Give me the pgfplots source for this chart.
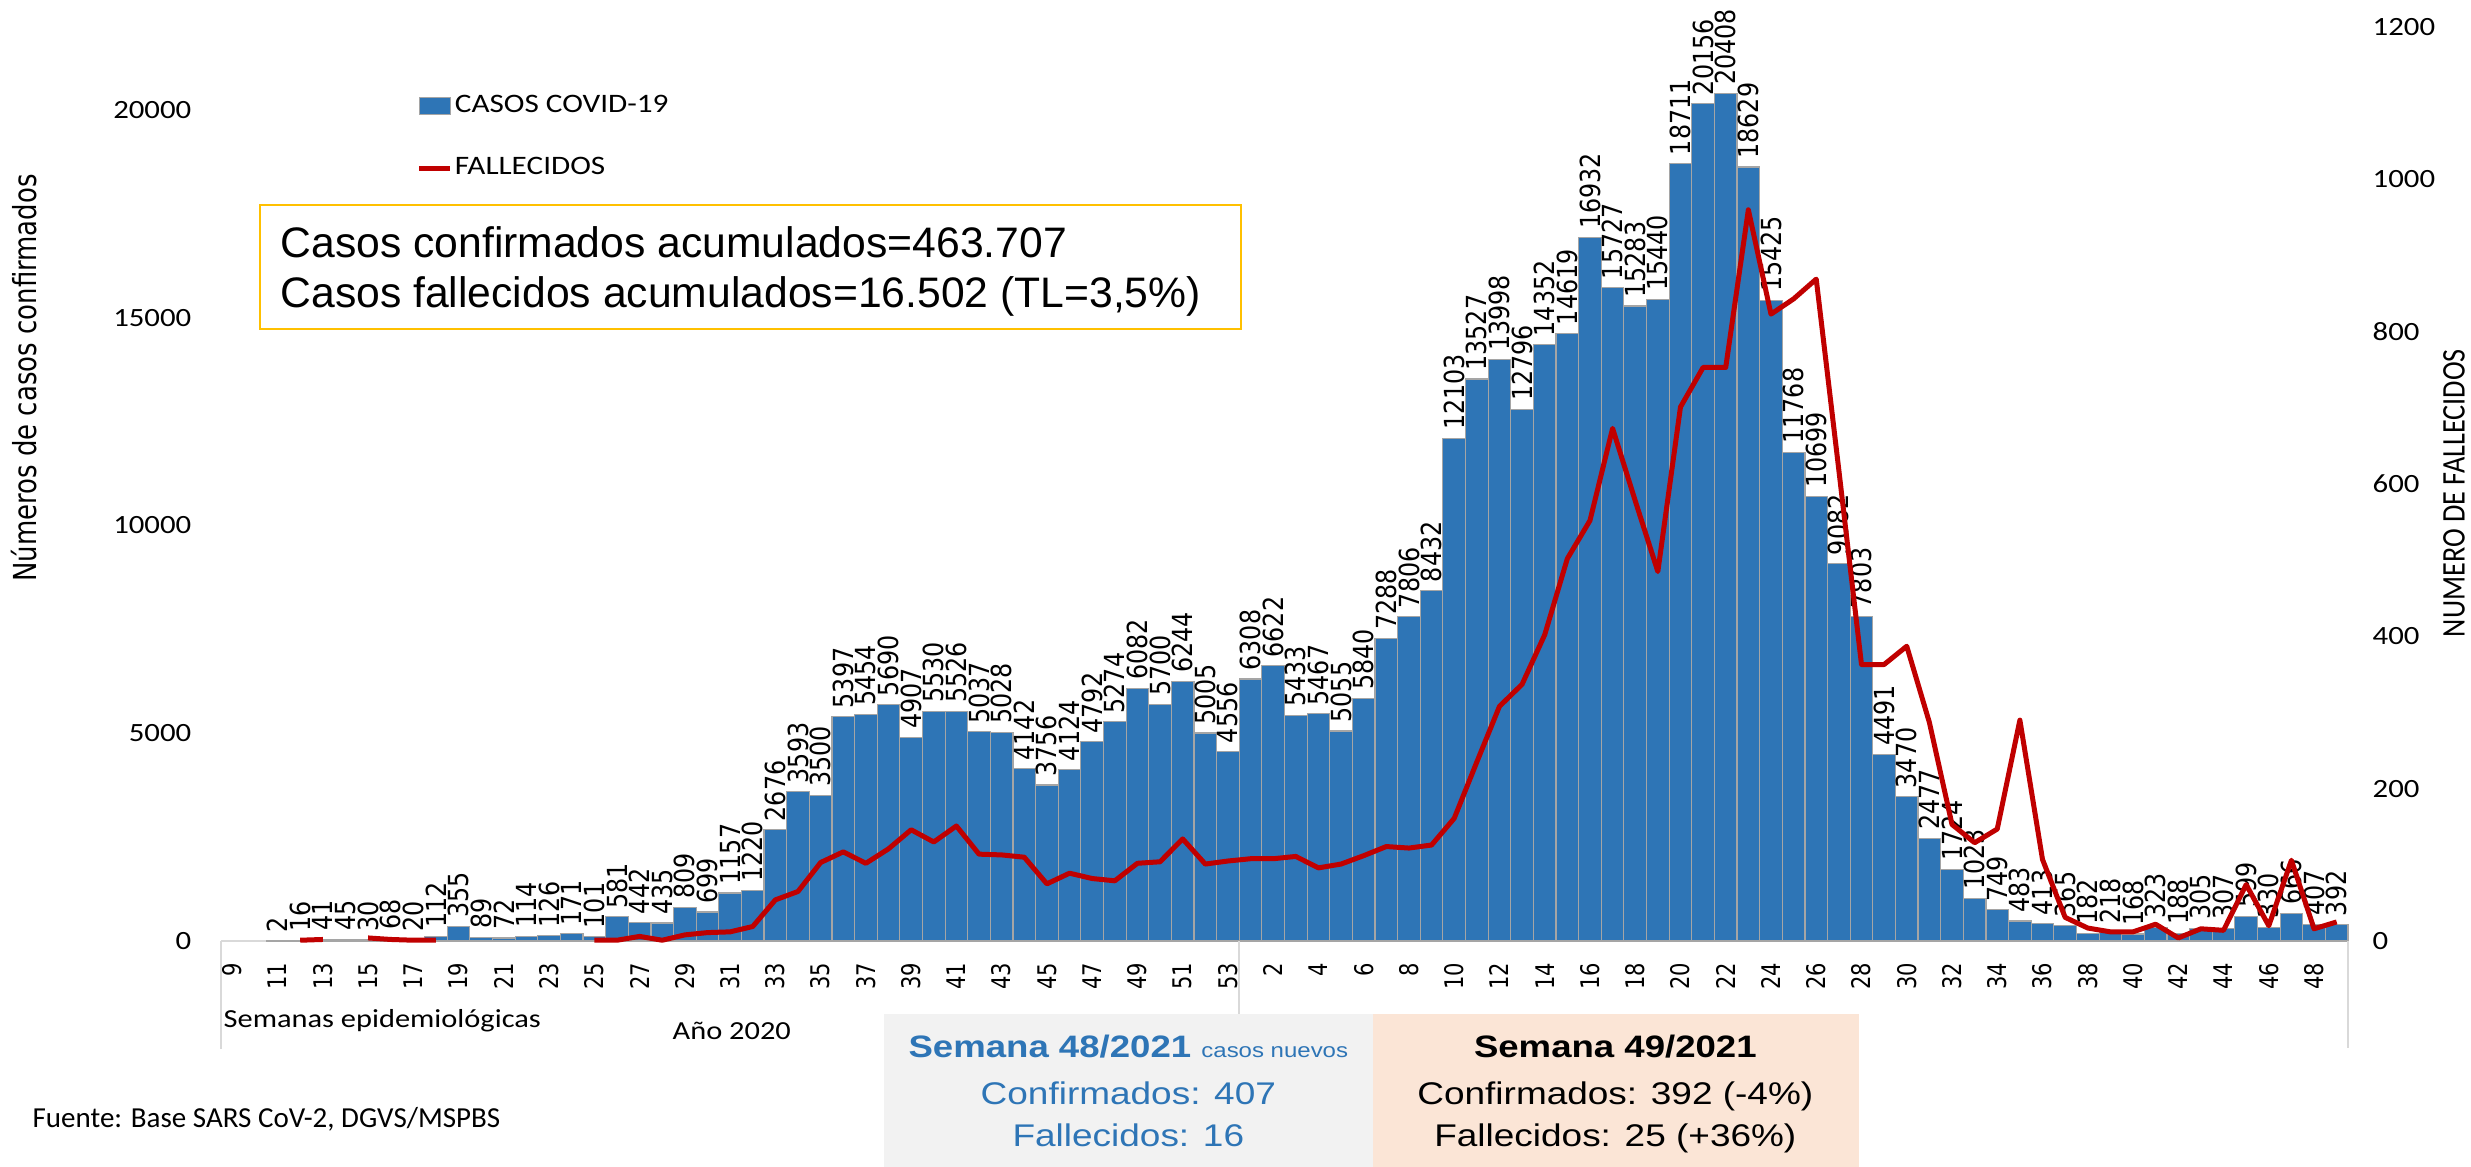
\documentclass[border=0pt]{standalone}
\usepackage{pgfplots}
\pgfplotsset{compat=1.18}
\usepackage{pgfplotstable}
\usepackage{fontspec}
\setmainfont{Carlito}
\newfontfamily\dvR[FakeStretch=0.82]{DejaVu Sans}
\newfontfamily\dvB[FakeStretch=0.86]{DejaVu Sans}
\newfontfamily\cbH[FakeStretch=1.17]{Carlito}
\newfontfamily\cbR[FakeStretch=0.855]{Carlito}
\newfontfamily\arW[FakeStretch=1.18]{Liberation Sans}
\newfontfamily\arN{Liberation Sans}
\newfontfamily\cbN{Carlito}
\definecolor{barblue}{HTML}{2E75B6}
\definecolor{bargray}{HTML}{A5A5A5}
\definecolor{linered}{HTML}{C00000}
\definecolor{boxgold}{HTML}{FFC000}
\definecolor{sepgray}{HTML}{D9D9D9}
\definecolor{graybox}{HTML}{F2F2F2}
\definecolor{peachbox}{HTML}{FBE5D6}
\definecolor{txtblue}{HTML}{2E75B6}

\pgfplotstableread{
x y
2 2
3 16
4 41
5 45
6 30
7 68
8 20
9 112
10 355
11 89
12 72
13 114
14 126
15 171
16 101
17 581
18 442
19 435
20 809
21 699
22 1157
23 1220
24 2676
25 3593
26 3500
27 5397
28 5454
29 5690
30 4907
31 5530
32 5526
33 5037
34 5028
35 4142
36 3756
37 4124
38 4792
39 5274
40 6082
41 5700
42 6244
43 5005
44 4556
45 6308
46 6622
47 5433
48 5467
49 5055
50 5840
51 7288
52 7806
53 8432
54 12103
55 13527
56 13998
57 12796
58 14352
59 14619
60 16932
61 15727
62 15283
63 15440
64 18711
65 20156
66 20408
67 18629
68 15425
69 11768
70 10699
71 9082
72 7803
73 4491
74 3470
75 2477
76 1724
77 1023
78 749
79 483
80 413
81 365
82 182
83 218
84 168
85 323
86 188
87 305
88 307
89 599
90 330
91 666
92 407
93 392
}\cases

\pgfplotstableread{
x d
0 nan
1 nan
2 nan
3 1
4 2
5 nan
6 4
7 2
8 1
9 1
10 nan
11 nan
12 nan
13 nan
14 nan
15 nan
16 1
17 1
18 6
19 1
20 8
21 11
22 12
23 19
24 54
25 65
26 103
27 117
28 102
29 121
30 146
31 130
32 151
33 114
34 113
35 110
36 75
37 89
38 82
39 79
40 102
41 104
42 134
43 101
44 105
45 108
46 108
47 111
48 96
49 101
50 112
51 124
52 122
53 126
54 161
55 235
56 308
57 337
58 402
59 502
60 552
61 673
62 578
63 485
64 701
65 753
66 753
67 960
68 823
69 843
70 869
71 618
72 363
73 363
74 387
75 287
76 153
77 129
78 147
79 290
80 107
81 31
82 17
83 12
84 12
85 22
86 4
87 16
88 14
89 74
90 20
91 106
92 16
93 25
}\deaths

\begin{document}
\begin{tikzpicture}[x=1pt,y=1pt]
\useasboundingbox (0,0) rectangle (741.3,350.1);
\begin{axis}[
  at={(66.3pt,67.8pt)}, anchor=south west,
  scale only axis, width=638.1pt, height=274.2pt,
  xmin=-0.5, xmax=93.5, ymin=0, ymax=22000,
  clip=false,
  axis x line*=bottom, axis y line*=left,
  axis line style={-},
  x axis line style={draw=sepgray, line width=0.6pt},
  y axis line style={draw=none},
  major tick length=0pt,
  xtick={0,2,...,92},
  xticklabels={9,11,13,15,17,19,21,23,25,27,29,31,33,35,37,39,41,43,45,47,49,51,53,2,4,6,8,10,12,14,16,18,20,22,24,26,28,30,32,34,36,38,40,42,44,46,48},
  xticklabel style={yshift=-6.3pt, rotate=90, anchor=east, inner sep=0pt, font=\dvR\fontsize{7.7}{8}\selectfont},
  ytick={0,5000,10000,15000,20000},
  yticklabel style={anchor=east, inner sep=0pt, xshift=-8.7pt, font=\cbH\fontsize{7.9}{9}\selectfont},
  scaled y ticks=false,
  /pgf/number format/1000 sep={},
  /pgf/number format/assume math mode=true,
  legend style={at={(0.0921,0.928)}, anchor=north west, draw=none, fill=none,
    font=\cbH\fontsize{8}{9}\selectfont, row sep=10.8pt, inner sep=0pt, outer sep=0pt,
    nodes={inner sep=0.6pt}},
  legend cell align=left,
]
\addplot[ybar, bar width=1, bar shift=0pt, fill=barblue, draw=bargray, line width=0.35pt,
  nodes near coords, point meta=explicit symbolic,
  every node near coord/.append style={rotate=90, anchor=west, inner sep=2.4pt, font=\dvB\fontsize{8.3}{9}\selectfont, text=black},
  legend image code/.code={\draw[fill=barblue, draw=bargray, line width=0.3pt] (0pt,-2.6pt) rectangle (9.3pt,2.6pt);}]
  table[x=x, y=y, meta=y] {\cases};
\addlegendentry{CASOS COVID-19}
\addlegendimage{legend image code/.code={\draw[linered, line width=1.5pt] (0pt,0pt) -- (9.3pt,0pt);}}
\addlegendentry{FALLECIDOS}
\node[rotate=90, inner sep=0pt, font=\dvR\fontsize{9.5}{10}\selectfont] at (axis description cs:-0.0926,0.616) {Números de casos confirmados};
\end{axis}
\begin{axis}[
  at={(66.3pt,67.8pt)}, anchor=south west,
  scale only axis, width=638.1pt, height=274.2pt,
  xmin=-0.5, xmax=93.5, ymin=0, ymax=1200,
  axis x line=none, axis y line*=right,
  axis line style={-, draw=none},
  major tick length=0pt,
  ytick={0,200,400,600,800,1000,1200},
  yticklabel pos=right,
  yticklabel style={anchor=west, inner sep=0pt, xshift=7.2pt, font=\cbH\fontsize{7.9}{9}\selectfont},
  scaled y ticks=false,
  /pgf/number format/1000 sep={},
  /pgf/number format/assume math mode=true,
  unbounded coords=jump,
  clip=false,
]
\addplot[linered, line width=1.5pt, mark=none, line join=round] table[x=x, y=d] {\deaths};
\node[rotate=90, inner sep=0pt, font=\cbR\fontsize{9.9}{10}\selectfont] at (axis description cs:1.0498,0.490) {NUMERO DE FALLECIDOS};
\end{axis}
% category axis frame
\draw[sepgray, line width=0.6pt] (66.3,67.8) -- (66.3,35.4);
\draw[sepgray, line width=0.6pt] (371.8,67.8) -- (371.8,45.9);
\draw[sepgray, line width=0.6pt] (704.4,67.8) -- (704.4,35.7);
\node[anchor=base west, inner sep=0pt, font=\cbH\fontsize{7.8}{9}\selectfont] at (66.9,41.7) {Semanas epidemiológicas};
\node[anchor=base west, inner sep=0pt, font=\cbH\fontsize{7.8}{9}\selectfont] at (201.6,38.1) {Año 2020};
\node[anchor=base west, inner sep=0pt, font=\cbN\fontsize{8.7}{10}\selectfont] at (9.6,11.7) {Fuente: Base SARS CoV-2, DGVS/MSPBS};
% cumulative box
\draw[boxgold, line width=0.6pt, fill=white] (78,251.4) rectangle (372.3,288.6);
\node[anchor=base west, inner sep=0pt, font=\arN\fontsize{12.8}{14}\selectfont] at (84,272.7) {Casos confirmados acumulados=463.707};
\node[anchor=base west, inner sep=0pt, font=\arN\fontsize{12.8}{14}\selectfont] at (84,257.7) {Casos fallecidos acumulados=16.502 (TL=3,5\%)};
% bottom boxes
\fill[graybox] (265.2,0) rectangle (411.9,45.9);
\fill[peachbox] (411.9,0) rectangle (557.7,45.9);
\node[anchor=base, inner sep=0pt, text=txtblue] at (338.5,32.7) {\arW\fontsize{9.3}{11}\selectfont\bfseries Semana 48/2021 {\mdseries\fontsize{6.1}{7}\selectfont casos nuevos}};
\node[anchor=base, inner sep=0pt, text=txtblue, font=\arW\fontsize{9.4}{11}\selectfont] at (338.5,18.6) {Confirmados: 407};
\node[anchor=base, inner sep=0pt, text=txtblue, font=\arW\fontsize{9.4}{11}\selectfont] at (338.5,6.1) {Fallecidos: 16};
\node[anchor=base, inner sep=0pt, text=black] at (484.6,32.7) {\arW\fontsize{9.3}{11}\selectfont\bfseries Semana 49/2021};
\node[anchor=base, inner sep=0pt, text=black, font=\arW\fontsize{9.4}{11}\selectfont] at (484.6,18.6) {Confirmados: 392 (-4\%)};
\node[anchor=base, inner sep=0pt, text=black, font=\arW\fontsize{9.4}{11}\selectfont] at (484.6,6.1) {Fallecidos: 25 (+36\%)};
\end{tikzpicture}
\end{document}
